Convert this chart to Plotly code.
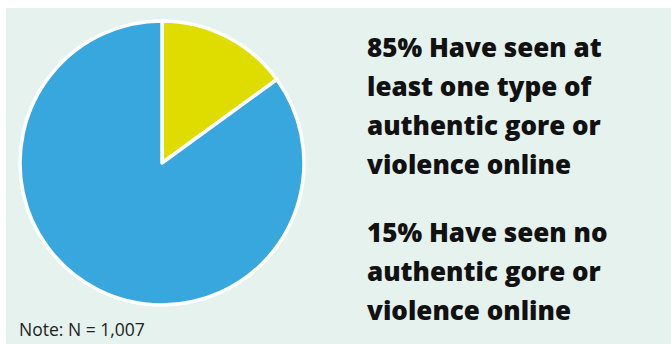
import plotly.graph_objects as go

# Share of respondents by exposure to authentic gore/violence online
labels = ["Have seen no authentic gore or violence online",
          "Have seen at least one type of authentic gore or violence online"]
values = [15, 85]
colors = ["#dfdd00", "#38a7de"]

headline_lines = ["85% Have seen at", "least one type of",
                  "authentic gore or", "violence online"]
second_lines = ["15% Have seen no", "authentic gore or", "violence online"]
note_text = "Note: N = 1,007"

W, H = 671, 344

fig = go.Figure(go.Pie(
    labels=labels,
    values=values,
    sort=False,
    direction="clockwise",
    rotation=0,
    textinfo="none",
    hoverinfo="label+percent",
    marker=dict(colors=colors, line=dict(color="white", width=3.5)),
    domain=dict(x=[20 / W, 304 / W], y=[1 - 306 / H, 1 - 20 / H]),
    showlegend=False,
))

# light mint panel behind everything
fig.add_shape(type="rect", xref="paper", yref="paper",
              x0=6 / W, x1=1, y0=0, y1=1 - 8 / H,
              fillcolor="#e5f2ee", line=dict(width=0), layer="below")

text_font = dict(family="Open Sans", size=26, color="#111111", weight=800)

def add_lines(lines, y_start):
    for i, line in enumerate(lines):
        y = y_start + i * 39
        fig.add_annotation(x=365 / W, y=1 - y / H, xref="paper", yref="paper",
                           text=line, showarrow=False, xanchor="left",
                           yanchor="middle", font=text_font)

add_lines(headline_lines, 47)
add_lines(second_lines, 232)

fig.add_annotation(x=17 / W, y=1 - 329 / H, xref="paper", yref="paper",
                   text=note_text, showarrow=False, xanchor="left",
                   yanchor="middle",
                   font=dict(family="Open Sans", size=17.5, color="#222222"))

fig.update_layout(width=W, height=H, margin=dict(l=0, r=0, t=0, b=0),
                  paper_bgcolor="white", plot_bgcolor="white")

fig.write_html("out.html")
